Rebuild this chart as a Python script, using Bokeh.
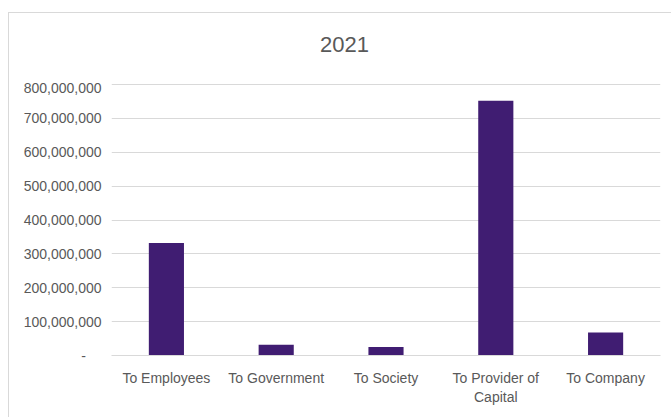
from bokeh.plotting import figure
from bokeh.models import CustomJSTickFormatter, Range1d, Div
from bokeh.layouts import column
from bokeh.embed import file_html
from bokeh.resources import INLINE

categories = ["To Employees", "To Government", "To Society", "To Provider of\nCapital", "To Company"]
values = [332_000_000, 32_000_000, 25_000_000, 752_000_000, 68_000_000]
y_ticks = [0, 100_000_000, 200_000_000, 300_000_000, 400_000_000, 500_000_000, 600_000_000, 700_000_000, 800_000_000]
title_text = "2021"

FONT = "Liberation Sans"
TEXT_COLOR = "#595959"

title_div = Div(
    text=('<div style="font-family: \'Liberation Sans\'; font-size: 22px; line-height: 22px; '
          'color: #595959; text-align: left; padding: 21px 0 0 311px; margin: 0; white-space: nowrap;">'
          + title_text + '</div>'),
    width=663, height=66, margin=(0, 0, 0, 0))

p = figure(x_range=categories, width=663, height=339, output_backend="svg",
           toolbar_location=None, tools="", margin=(0, 0, 0, 0))
p.y_range = Range1d(0, 815_000_000)

p.vbar(x=categories, top=values, width=0.32, color="#401D72", line_color=None)

p.min_border_left = 102
p.min_border_right = 12
p.min_border_top = 0
p.min_border_bottom = 63
p.outline_line_color = None
p.background_fill_color = "white"
p.border_fill_color = "white"

p.xgrid.grid_line_color = None
p.ygrid.grid_line_color = "#d9d9d9"
p.ygrid.grid_line_width = 1

p.yaxis.ticker = y_ticks
p.yaxis.formatter = CustomJSTickFormatter(code="""
if (tick == 0) { return "-\u00a0\u00a0\u00a0\u00a0"; }
return tick.toLocaleString('en-US');
""")
p.yaxis.axis_line_color = None
p.yaxis.major_tick_line_color = None
p.yaxis.minor_tick_line_color = None
p.yaxis.major_label_text_font = FONT
p.yaxis.major_label_text_font_size = "14px"
p.yaxis.major_label_text_color = TEXT_COLOR
p.yaxis.major_label_standoff = 4

p.xaxis.axis_line_color = "#d9d9d9"
p.xaxis.axis_line_width = 1
p.xaxis.major_tick_line_color = None
p.xaxis.minor_tick_line_color = None
p.xaxis.major_label_text_font = FONT
p.xaxis.major_label_text_font_size = "14px"
p.xaxis.major_label_text_color = TEXT_COLOR
p.xaxis.major_label_standoff = 8

layout = column(title_div, p, spacing=0, margin=(12, 0, 0, 8))
layout.styles = {"border-top": "1px solid #d9d9d9", "border-left": "1px solid #d9d9d9",
                 "background-color": "white"}

open("out.html", "w").write(file_html(layout, INLINE))
